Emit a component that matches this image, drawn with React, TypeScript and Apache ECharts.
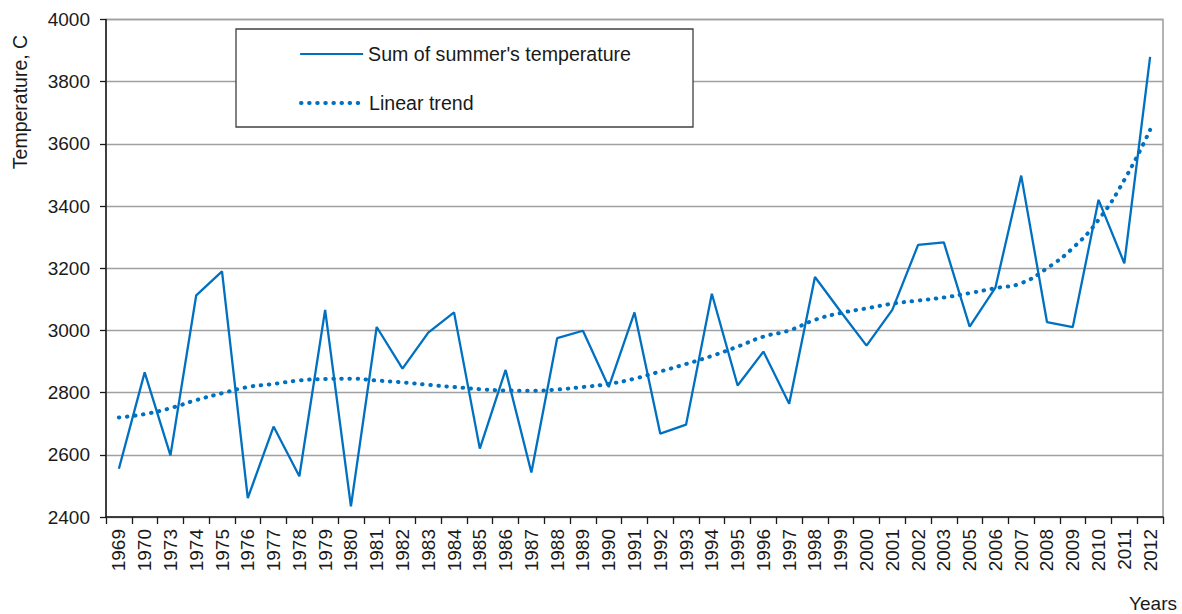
import React, { useEffect, useRef } from "react";
import * as echarts from "echarts";

const years = [
  "1969", "1970", "1973", "1974", "1975", "1976", "1977", "1978", "1979", "1980",
  "1981", "1982", "1983", "1984", "1985", "1986", "1987", "1988", "1989", "1990",
  "1991", "1992", "1993", "1994", "1995", "1996", "1997", "1998", "1999", "2000",
  "2001", "2002", "2003", "2005", "2006", "2007", "2008", "2009", "2010", "2011", "2012",
];

const summerSum = [
  2555, 2865, 2598, 3113, 3190, 2461, 2691, 2531, 3066, 2434,
  3011, 2877, 2993, 3058, 2620, 2873, 2543, 2975, 2999, 2818,
  3058, 2668, 2697, 3118, 2823, 2932, 2764, 3172, 3060, 2951,
  3066, 3275, 3283, 3012, 3138, 3498, 3027, 3011, 3420, 3216, 3880,
];

const linearTrend = [
  2720, 2731, 2750, 2776, 2798, 2818, 2828, 2839, 2844, 2845,
  2839, 2833, 2825, 2818, 2811, 2807, 2806, 2810, 2818, 2828,
  2845, 2868, 2892, 2918, 2948, 2980, 3000, 3034, 3056, 3071,
  3086, 3096, 3106, 3120, 3136, 3152, 3200, 3265, 3356, 3484, 3645,
];

const seriesNames = ["Sum of summer's temperature", "Linear trend"];
const yAxisTitle = "Temperature, C";
const xAxisTitle = "Years";

const BLUE = "#0070C0";
const FONT = "Liberation Sans, Arial, sans-serif";
const DOTS = { color: BLUE, width: 4, type: [0.5, 7.6], cap: "round" };

export default function App() {
  const ref = useRef<HTMLDivElement>(null);

  useEffect(() => {
    if (!ref.current) return;
    const chart = echarts.init(ref.current, null, { renderer: "svg" });
    const legendCommon = {
      orient: "horizontal",
      left: 299,
      itemWidth: 63,
      itemHeight: 14,
      padding: 0,
      itemStyle: { opacity: 0, borderWidth: 0 },
      textStyle: { fontSize: 19.6, color: "#1a1a1a", fontFamily: FONT },
      z: 10,
    };
    chart.setOption({
      animation: false,
      backgroundColor: "#ffffff",
      textStyle: { fontFamily: FONT },
      grid: {
        left: 106,
        right: 19,
        top: 19.5,
        bottom: 97,
        show: true,
        borderColor: "#9a9a9a",
        borderWidth: 1.5,
        backgroundColor: "transparent",
      },
      legend: [
        {
          ...legendCommon,
          top: 44,
          data: [{ name: seriesNames[0] }],
          lineStyle: { color: BLUE, width: 2.2, type: "solid" },
        },
        {
          ...legendCommon,
          top: 93,
          data: [{ name: seriesNames[1] }],
          lineStyle: DOTS,
        },
      ],
      xAxis: {
        type: "category",
        data: years,
        boundaryGap: true,
        axisLine: { show: true, lineStyle: { color: "#1a1a1a", width: 1.5 } },
        axisTick: { show: true, inside: false, length: 7, lineStyle: { color: "#1a1a1a", width: 1.3 } },
        axisLabel: {
          rotate: 90,
          interval: 0,
          margin: 12,
          fontSize: 19,
          color: "#1a1a1a",
          fontFamily: FONT,
        },
        splitLine: { show: false },
      },
      yAxis: {
        type: "value",
        min: 2400,
        max: 4000,
        interval: 200,
        axisLine: { show: true, lineStyle: { color: "#1a1a1a", width: 1.5 } },
        axisTick: { show: true, length: 6, lineStyle: { color: "#1a1a1a", width: 1.3 } },
        axisLabel: {
          margin: 16,
          fontSize: 19,
          color: "#1a1a1a",
          fontFamily: FONT,
          formatter: (v: number) => String(v),
        },
        splitLine: { show: true, lineStyle: { color: "#a0a0a0", width: 1.3 } },
      },
      series: [
        {
          name: seriesNames[0],
          type: "line",
          data: summerSum,
          symbol: "none",
          lineStyle: { color: BLUE, width: 2.3 },
          itemStyle: { color: BLUE },
          z: 3,
        },
        {
          name: seriesNames[1],
          type: "line",
          data: linearTrend,
          symbol: "none",
          smooth: true,
          lineStyle: DOTS,
          itemStyle: { color: BLUE },
          z: 4,
        },
      ],
      graphic: [
        {
          type: "rect",
          shape: { x: 236, y: 29, width: 457, height: 98 },
          style: { fill: "#ffffff", stroke: "#404040", lineWidth: 1.3 },
          z: 5,
        },
        {
          type: "text",
          x: 20,
          y: 102,
          rotation: Math.PI / 2,
          style: {
            text: yAxisTitle,
            fontSize: 19.5,
            fontFamily: FONT,
            fill: "#1a1a1a",
            align: "center",
            verticalAlign: "middle",
          },
          z: 5,
        },
        {
          type: "text",
          x: 1177,
          y: 603,
          style: {
            text: xAxisTitle,
            fontSize: 19,
            fontFamily: FONT,
            fill: "#1a1a1a",
            align: "right",
            verticalAlign: "middle",
          },
          z: 5,
        },
      ],
    });
    return () => chart.dispose();
  }, []);

  return <div ref={ref} style={{ width: 1182, height: 614, position: "absolute", left: 0, top: 0 }} />;
}
